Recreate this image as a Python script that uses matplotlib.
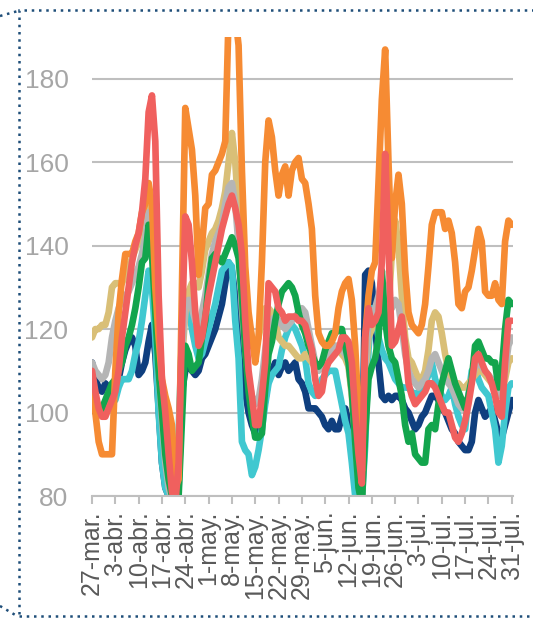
import matplotlib
matplotlib.use("Agg")
import matplotlib.pyplot as plt
import numpy as np
import pandas as pd
from matplotlib.lines import Line2D
from matplotlib.patches import Rectangle

plt.rcParams['font.family'] = ['Liberation Sans', 'DejaVu Sans']

# daily values, 27-mar .. 31-jul
fechas = pd.date_range("2020-03-27", "2020-07-31", freq="D")
semanas = pd.date_range("2020-03-27", "2020-07-31", freq="7D")
etiquetas = ["27-mar.", "3-abr.", "10-abr.", "17-abr.", "24-abr.", "1-may.", "8-may.",
             "15-may.", "22-may.", "29-may.", "5-jun.", "12-jun.", "19-jun.", "26-jun.",
             "3-jul.", "10-jul.", "17-jul.", "24-jul.", "31-jul."]

serie_azul = [112, 108, 106, 105, 107, 106, 104, 106, 108, 112,
              115, 117, 118, 116, 109, 110, 112, 117, 121, 114,
              101, 88, 82, 80, 79, 78, 82, 105, 110, 112,
              110, 109, 110, 113, 114, 116, 118, 120, 123, 126,
              131, 136, 134, 128, 118, 112, 105, 100, 97, 95,
              95, 98, 103, 108, 110, 112, 109, 111, 112, 110,
              111, 112, 108, 107, 105, 101, 101, 101, 100, 99,
              97, 96, 98, 96, 96, 99, 101, 98, 95, 90,
              82, 80, 133, 134, 131, 120, 112, 104, 103, 104,
              103, 104, 104, 103, 101, 100, 98, 96, 97, 99,
              100, 102, 104, 104, 103, 101, 100, 98, 96, 95,
              93, 92, 91, 91, 93, 100, 103, 101, 99, 100,
              101, 98, 95, 94, 97, 100, 103]

serie_turquesa = [105, 103, 101, 100, 101, 102, 103, 103, 106, 108,
                  108, 108, 110, 114, 117, 122, 128, 134, 130, 118,
                  100, 88, 82, 80, 79, 80, 95, 118, 128, 125,
                  120, 116, 113, 114, 117, 120, 123, 126, 130, 134,
                  135, 136, 135, 122, 113, 93, 91, 90, 85, 87,
                  91, 96, 102, 107, 109, 110, 111, 115, 118, 120,
                  121, 120, 118, 116, 113, 107, 105, 104, 106, 108,
                  109, 110, 110, 110, 106, 102, 98, 95, 88, 80,
                  78, 79, 92, 115, 125, 123, 118, 115, 113, 112,
                  110, 108, 107, 106, 106, 106, 105, 104, 105, 106,
                  107, 109, 112, 108, 106, 104, 103, 104, 106, 102,
                  99, 97, 96, 104, 110, 111, 108, 106, 105, 104,
                  100, 96, 88, 92, 100, 106, 107]

serie_ocre = [118, 120, 120, 121, 121, 124, 130, 131, 131, 131,
              133, 135, 137, 139, 141, 143, 146, 149, 146, 130,
              115, 104, 95, 86, 80, 79, 92, 112, 124, 129,
              131, 131, 130, 134, 139, 141, 143, 144, 146, 149,
              153, 160, 167, 160, 148, 138, 128, 122, 118, 116,
              118, 122, 125, 125, 124, 122, 118, 117, 116, 116,
              115, 114, 113, 113, 114, 113, 112, 111, 111, 112,
              113, 114, 115, 116, 115, 114, 113, 111, 104, 94,
              84, 80, 108, 118, 120, 122, 123, 122, 124, 125,
              138, 146, 140, 128, 118, 113, 112, 110, 108, 108,
              110, 115, 122, 124, 123, 119, 114, 110, 108, 107,
              107, 106, 106, 107, 108, 109, 110, 110, 109, 108,
              107, 106, 104, 105, 108, 112, 113]

serie_gris = [112, 110, 109, 108, 109, 112, 118, 122, 125, 127,
              128, 129, 131, 133, 135, 138, 142, 148, 145, 128,
              110, 98, 88, 82, 79, 79, 92, 115, 125, 127,
              125, 122, 120, 124, 128, 133, 138, 141, 143, 145,
              150, 154, 155, 150, 140, 125, 115, 108, 104, 102,
              103, 108, 115, 120, 122, 123, 122, 121, 120, 121,
              122, 123, 124, 125, 124, 120, 116, 112, 110, 111,
              113, 114, 115, 116, 116, 115, 114, 112, 105, 95,
              85, 80, 110, 122, 124, 125, 128, 132, 130, 128,
              125, 127, 126, 120, 114, 110, 108, 107, 106, 107,
              108, 110, 113, 114, 112, 110, 108, 107, 106, 104,
              102, 101, 101, 104, 108, 111, 112, 111, 110, 109,
              108, 106, 104, 105, 110, 116, 118]

serie_verde = [102, 100, 100, 101, 103, 105, 107, 108, 110, 112,
               116, 118, 121, 125, 130, 136, 137, 145, 138, 124,
               110, 100, 90, 84, 80, 78, 80, 98, 116, 114,
               110, 111, 112, 118, 122, 131, 137, 138, 137, 136,
               138, 140, 142, 140, 137, 128, 115, 105, 99, 94,
               94, 95, 106, 114, 117, 122, 126, 129, 130, 131,
               130, 128, 124, 121, 119, 116, 114, 112, 111, 112,
               115, 117, 119, 119, 120, 120, 116, 112, 105, 93,
               82, 78, 95, 108, 111, 113, 118, 134, 122, 116,
               113, 112, 108, 104, 97, 93, 95, 90, 89, 88,
               88, 96, 97, 96, 102, 107, 110, 113, 110, 107,
               105, 103, 101, 104, 108, 116, 117, 115, 113, 113,
               112, 112, 106, 110, 120, 127, 126]

serie_naranja = [108, 100, 93, 90, 90, 90, 90, 110, 124, 132,
                 138, 138, 138, 141, 143, 148, 150, 155, 150, 130,
                 118, 108, 104, 101, 97, 82, 84, 130, 173, 168,
                 163, 152, 133, 140, 149, 150, 157, 158, 160, 162,
                 165, 195, 195, 195, 188, 158, 135, 124, 118, 112,
                 118, 136, 160, 170, 166, 158, 152, 157, 159, 152,
                 158, 160, 161, 156, 155, 150, 144, 128, 119, 117,
                 116, 116, 117, 119, 125, 129, 131, 132, 127, 116,
                 100, 86, 118, 128, 134, 136, 155, 175, 187, 160,
                 137, 150, 157, 150, 134, 124, 121, 120, 119, 121,
                 126, 135, 145, 148, 148, 148, 144, 146, 143, 136,
                 126, 125, 129, 130, 134, 139, 144, 141, 129, 128,
                 128, 131, 127, 126, 141, 146, 145]

serie_roja = [110, 105, 101, 99, 99, 101, 103, 105, 110, 118,
              124, 130, 136, 140, 143, 148, 156, 172, 176, 165,
              128, 108, 100, 90, 81, 78, 88, 120, 147, 145,
              136, 124, 116, 118, 123, 128, 132, 136, 140, 144,
              147, 150, 152, 149, 145, 138, 122, 110, 104, 97,
              97, 104, 112, 131, 130, 129, 125, 124, 122, 123,
              123, 123, 122, 122, 121, 118, 115, 108, 104, 105,
              110, 112, 113, 114, 115, 118, 118, 117, 112, 100,
              90, 83, 118, 125, 121, 122, 124, 136, 162, 140,
              116, 117, 120, 123, 116, 107, 104, 102, 103, 104,
              105, 107, 107, 106, 104, 102, 100, 100, 97, 94,
              93, 95, 98, 102, 107, 113, 114, 112, 110, 109,
              107, 104, 100, 99, 112, 122, 122]

series = [(serie_azul, "#0F3F7F"),
          (serie_turquesa, "#40C8D0"),
          (serie_ocre, "#D9BF77"),
          (serie_gris, "#B5B5B5"),
          (serie_verde, "#13A54D"),
          (serie_naranja, "#F68B33"),
          (serie_roja, "#F0605E")]

fig = plt.figure(figsize=(5.33, 6.2), dpi=100)
ax = fig.add_axes([92 / 533, 1 - 496 / 620, 421 / 533, 459 / 620])

for vals, color in series:
    ax.plot(fechas, vals, color=color, lw=4.8,
            solid_joinstyle='round', solid_capstyle='round')

ax.set_ylim(80, 190)
ax.set_xlim(fechas[0], fechas[-1] + pd.Timedelta(hours=9))
ax.set_yticks(range(80, 181, 20))
ax.yaxis.grid(True, color='#BFBFBF', lw=1.5)
ax.set_axisbelow(True)

for s in ['top', 'right', 'left']:
    ax.spines[s].set_visible(False)
ax.spines['bottom'].set_color('#BFBFBF')
ax.spines['bottom'].set_linewidth(1.5)

ax.set_xticks(semanas)
ax.set_xticklabels(etiquetas, rotation=90, fontsize=18, color='#595959')
ax.tick_params(axis='x', length=5.5, width=1.5, color='#BFBFBF', pad=5)
ax.tick_params(axis='y', length=0, pad=17, labelcolor='#A6A6A6', labelsize=19)

# dotted frame of the chart object
borde = Rectangle((19 / 533, 1 - 616 / 620), 560 / 533, 606 / 620,
                  transform=fig.transFigure, fill=False, edgecolor='#1F4E79',
                  lw=1.8, linestyle=(0, (1, 1.9)), clip_on=False)
fig.patches.append(borde)
fig.lines.append(Line2D([0, 18 / 533], [1 - 16 / 620, 1 - 11 / 620],
                        transform=fig.transFigure, color='#1F4E79', lw=1.8,
                        linestyle=(0, (1, 1.9))))
fig.lines.append(Line2D([0, 17 / 533], [1 - 606 / 620, 1 - 616 / 620],
                        transform=fig.transFigure, color='#1F4E79', lw=1.8,
                        linestyle=(0, (1, 1.9))))

fig.savefig("out.png", dpi=100)
